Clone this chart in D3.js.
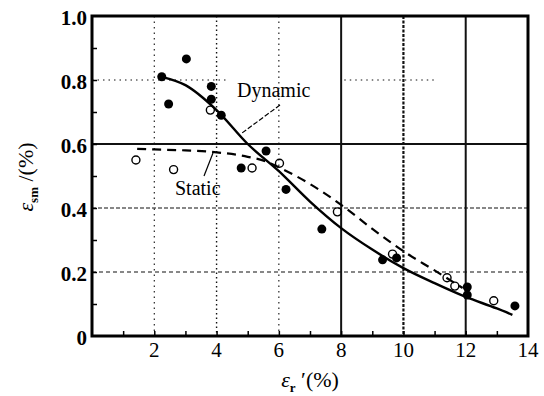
<!DOCTYPE html>
<html>
<head>
<meta charset="utf-8">
<script src="https://cdn.jsdelivr.net/npm/d3@7"></script>
<style>
  body { margin: 0; background: #fff; }
</style>
</head>
<body>
<div id="plot"></div>
<script>
// data
const xTicks = [2, 4, 6, 8, 10, 12, 14];
const yTicks = [0, 0.2, 0.4, 0.6, 0.8, 1.0];
const yTickLabels = ['0', '0.2', '0.4', '0.6', '0.8', '1.0'];

// measured points
const dynamicX = [2.24, 2.46, 3.03, 3.83, 3.83, 4.15, 4.79, 5.59, 6.23, 7.38, 9.33, 9.78, 12.05, 12.05, 13.58];
const dynamicY = [0.81, 0.725, 0.866, 0.78, 0.74, 0.69, 0.525, 0.578, 0.458, 0.334, 0.238, 0.244, 0.153, 0.128, 0.094];

const staticX = [1.41, 2.62, 3.8, 5.14, 6.02, 7.88, 9.65, 11.4, 11.65, 12.9];
const staticY = [0.55, 0.52, 0.706, 0.525, 0.54, 0.388, 0.256, 0.182, 0.156, 0.11];

// fitted curves
const dynCurveX = [2.24, 3, 4, 5, 6, 7, 8, 9, 10, 11, 12, 13, 13.5];
const dynCurveY = [0.81, 0.784, 0.706, 0.6, 0.515, 0.42, 0.337, 0.27, 0.212, 0.165, 0.122, 0.086, 0.066];

const staCurveX = [1.45, 2, 3, 4, 5, 5.6, 6, 7, 8, 9, 10, 11, 11.9];
const staCurveY = [0.585, 0.583, 0.58, 0.574, 0.56, 0.545, 0.527, 0.475, 0.41, 0.335, 0.265, 0.205, 0.15];

const serif = '"Liberation Serif", "Times New Roman", serif';

const width = 544, height = 396;
const svg = d3.select('#plot').append('svg')
  .attr('width', width)
  .attr('height', height)
  .attr('font-family', serif);

const x = d3.scaleLinear().domain([0, 14]).range([92, 528]);
const y = d3.scaleLinear().domain([0, 1]).range([336, 16]);

// grid lines
const vGrid = [
  { v: 2, dash: '1.5,4', w: 1.1 },
  { v: 4, dash: '1.5,3', w: 1.4 },
  { v: 6, dash: '1.5,4', w: 1.1 },
  { v: 8, dash: null, w: 2 },
  { v: 10, dash: '3,1.5', w: 2.2 },
  { v: 12, dash: null, w: 2 }
];
svg.selectAll('line.vgrid')
  .data(vGrid)
  .enter().append('line')
    .attr('class', 'vgrid')
    .attr('x1', d => x(d.v)).attr('x2', d => x(d.v))
    .attr('y1', y(1)).attr('y2', y(0))
    .attr('stroke', '#111')
    .attr('stroke-width', d => d.w)
    .attr('stroke-dasharray', d => d.dash);

const hGrid = [
  { v: 0.2, from: 0, to: 14, dash: '4,3', w: 1.1 },
  { v: 0.4, from: 0, to: 14, dash: '4,2', w: 1.2 },
  { v: 0.6, from: 0, to: 14, dash: null, w: 2 },
  { v: 0.8, from: 0, to: 4.4, dash: '1.5,4', w: 1.2 },
  { v: 0.8, from: 8.1, to: 11.1, dash: '1.5,4', w: 1.2 }
];
svg.selectAll('line.hgrid')
  .data(hGrid)
  .enter().append('line')
    .attr('class', 'hgrid')
    .attr('x1', d => x(d.from)).attr('x2', d => x(d.to))
    .attr('y1', d => y(d.v)).attr('y2', d => y(d.v))
    .attr('stroke', '#111')
    .attr('stroke-width', d => d.w)
    .attr('stroke-dasharray', d => d.dash);

// axes (ticks inward)
const xAxis = d3.axisBottom(x)
  .tickValues(d3.range(1, 14, 1))
  .tickSize(-5)
  .tickFormat('');
svg.append('g')
  .attr('transform', `translate(0,${y(0)})`)
  .call(xAxis)
  .call(g => g.select('.domain').remove())
  .call(g => g.selectAll('line').attr('stroke-width', 1.5));

const yAxis = d3.axisLeft(y)
  .tickValues(d3.range(0.1, 1, 0.1))
  .tickSize(-5)
  .tickFormat('');
svg.append('g')
  .attr('transform', `translate(${x(0)},0)`)
  .call(yAxis)
  .call(g => g.select('.domain').remove())
  .call(g => g.selectAll('line').attr('stroke-width', 1.5));

// frame
svg.append('rect')
  .attr('x', x(0)).attr('y', y(1))
  .attr('width', x(14) - x(0))
  .attr('height', y(0) - y(1))
  .attr('fill', 'none')
  .attr('stroke', '#000')
  .attr('stroke-width', 3);

// tick labels
svg.selectAll('text.xt')
  .data(xTicks)
  .enter().append('text')
    .attr('class', 'xt')
    .attr('x', d => x(d))
    .attr('y', y(0) + 21)
    .attr('text-anchor', 'middle')
    .attr('font-size', 21)
    .text(d => d);

svg.selectAll('text.yt')
  .data(yTicks)
  .enter().append('text')
    .attr('class', 'yt')
    .attr('x', x(0) - 5)
    .attr('y', d => y(d) + 8.5)
    .attr('text-anchor', 'end')
    .attr('font-size', 21)
    .attr('font-weight', 'bold')
    .text((d, i) => yTickLabels[i]);

// curves
const line = d3.line()
  .x(d => x(d[0]))
  .y(d => y(d[1]))
  .curve(d3.curveMonotoneX);

svg.append('path')
  .attr('d', line(d3.zip(dynCurveX, dynCurveY)))
  .attr('fill', 'none')
  .attr('stroke', '#000')
  .attr('stroke-width', 2.4);

svg.append('path')
  .attr('d', line(d3.zip(staCurveX, staCurveY)))
  .attr('fill', 'none')
  .attr('stroke', '#000')
  .attr('stroke-width', 2.2)
  .attr('stroke-dasharray', '9,6');

// points
svg.selectAll('circle.dyn')
  .data(d3.zip(dynamicX, dynamicY))
  .enter().append('circle')
    .attr('class', 'dyn')
    .attr('cx', d => x(d[0]))
    .attr('cy', d => y(d[1]))
    .attr('r', 4.5)
    .attr('fill', '#000');

svg.selectAll('circle.sta')
  .data(d3.zip(staticX, staticY))
  .enter().append('circle')
    .attr('class', 'sta')
    .attr('cx', d => x(d[0]))
    .attr('cy', d => y(d[1]))
    .attr('r', 4)
    .attr('fill', 'none')
    .attr('stroke', '#000')
    .attr('stroke-width', 1.4);

// annotations
svg.append('text')
  .attr('x', 237).attr('y', 97)
  .attr('font-size', 20)
  .text('Dynamic');
svg.append('line')
  .attr('x1', 280).attr('y1', 105)
  .attr('x2', 242).attr('y2', 133)
  .attr('stroke', '#000').attr('stroke-width', 1.2)
  .attr('stroke-dasharray', '5,2');

svg.append('text')
  .attr('x', 175).attr('y', 195)
  .attr('font-size', 20)
  .text('Static');
svg.append('line')
  .attr('x1', 213).attr('y1', 153)
  .attr('x2', 204).attr('y2', 176)
  .attr('stroke', '#000').attr('stroke-width', 1.2);

// axis titles
const yt = svg.append('text')
  .attr('transform', 'translate(33,177) rotate(-90)')
  .attr('text-anchor', 'middle')
  .attr('font-size', 22);
yt.append('tspan').attr('font-style', 'italic').text('ε');
yt.append('tspan').attr('dy', 5).attr('font-size', 13).attr('font-weight', 'bold').text('sm');
yt.append('tspan').attr('dy', -5).text(' /(%)');

const xt = svg.append('text')
  .attr('x', 310).attr('y', 387)
  .attr('text-anchor', 'middle')
  .attr('font-size', 22);
xt.append('tspan').attr('font-style', 'italic').text('ε');
xt.append('tspan').attr('dy', 5).attr('font-size', 13).attr('font-weight', 'bold').text('r');
xt.append('tspan').attr('dy', -5).text(' \u2032(%)');
</script>
</body>
</html>
